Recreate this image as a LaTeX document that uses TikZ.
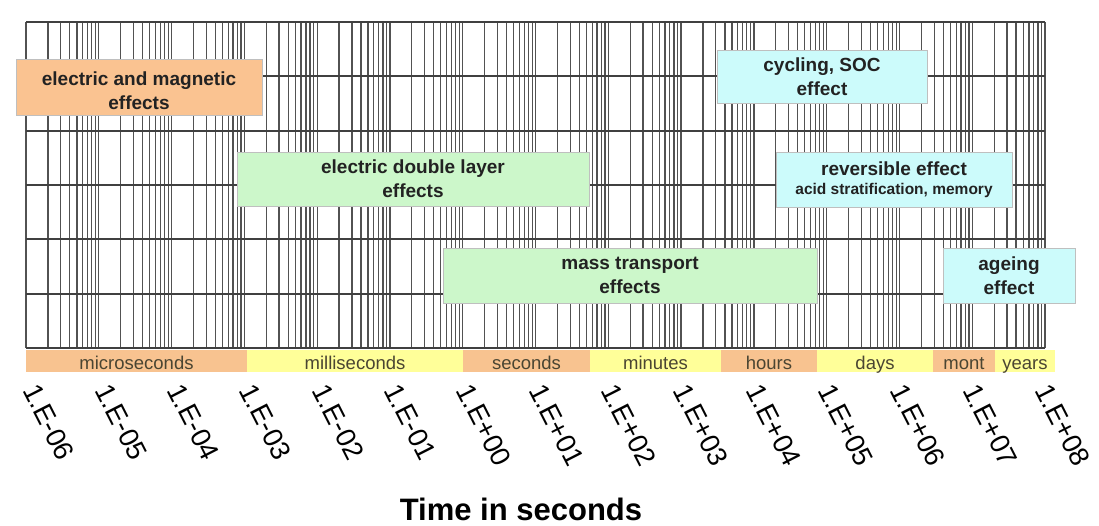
\documentclass[tikz,border=0pt]{standalone}
\usepackage{fontspec}
\setmainfont{Liberation Sans}
\definecolor{bandorange}{HTML}{F8C390}
\definecolor{bandyellow}{HTML}{FFFF99}
\definecolor{boxorange}{HTML}{FAC391}
\definecolor{boxgreen}{HTML}{CCF7CA}
\definecolor{boxcyan}{HTML}{CCFBFB}
\definecolor{bandtext}{HTML}{4A4532}
\definecolor{boxtext}{HTML}{222222}
\tikzset{
  vline/.style={draw=black!68, line width=1.25pt},
  hline/.style={draw=black!75, line width=1.7pt},
  band/.style={inner sep=0pt, minimum height=22pt, text height=18pt, text depth=2pt,
    text=bandtext, font=\fontsize{18.5}{20}\selectfont},
  effbox/.style={draw=black!25, line width=0.8pt, inner sep=0pt, align=center, text=boxtext,
    font=\fontsize{19}{24}\selectfont\bfseries},
  ticklab/.style={rotate=-63, anchor=base west, inner sep=0pt, font=\fontsize{27.5}{28}\selectfont},
}
\begin{document}
\begin{tikzpicture}[x=1pt,y=-1pt]
\useasboundingbox[fill=white] (0,0) rectangle (1099,525);
% vertical grid lines (log scale, 14 decades)
\foreach \d in {0,...,13}{
  \foreach \k in {1,...,9}{
    \pgfmathsetmacro{\xx}{26+72.79*(\d+log10(\k))}
    \draw[vline] (\xx,22) -- (\xx,348);
  }
}
\draw[vline] (1045,22) -- (1045,348);
% horizontal grid lines
\foreach \i in {0,...,6}{
  \pgfmathsetmacro{\yy}{22+54.33*\i}
  \draw[hline] (26,\yy) -- (1045,\yy);
}
% time unit band
\node[band, fill=bandorange, minimum width=221pt] (b1) at (136.5,361) {microseconds};
\node[band, fill=bandyellow, minimum width=216pt] (b2) at (355,361) {milliseconds};
\node[band, fill=bandorange, minimum width=127pt] (b3) at (526.5,361) {seconds};
\node[band, fill=bandyellow, minimum width=131pt] (b4) at (655.5,361) {minutes};
\node[band, fill=bandorange, minimum width=96pt] (b5) at (769,361) {hours};
\node[band, fill=bandyellow, minimum width=116pt] (b6) at (875,361) {days};
\node[band, fill=bandorange, minimum width=62pt] (b7) at (964,361) {mont};
\node[band, fill=bandyellow, minimum width=60pt] (b8) at (1025,361) {years};
% effect boxes
\node[effbox, fill=boxorange, minimum width=246pt, minimum height=56pt] (em) at (139,87) {\rule{0pt}{21pt}electric and magnetic\\effects};
\node[effbox, fill=boxgreen, minimum width=352pt, minimum height=54pt] (edl) at (413,179) {electric double layer\\effects};
\node[effbox, fill=boxgreen, minimum width=374pt, minimum height=55pt] (mt) at (630,275.5) {mass transport\\effects};
\node[effbox, fill=boxcyan, minimum width=210pt, minimum height=53pt] (soc) at (822,76.5) {cycling, SOC\\effect};
\node[effbox, fill=boxcyan, minimum width=236pt, minimum height=55pt] (rev) at (894,179.5) {reversible effect\\[-5pt]{\fontsize{15.5}{18}\selectfont acid stratification, memory}};
\node[effbox, fill=boxcyan, minimum width=132pt, minimum height=55pt] (age) at (1009,275.5) {ageing\\effect};
% tick labels
\foreach \lab [count=\i from 0] in {1.E-06,1.E-05,1.E-04,1.E-03,1.E-02,1.E-01,1.E+00,1.E+01,1.E+02,1.E+03,1.E+04,1.E+05,1.E+06,1.E+07,1.E+08}{
  \node[ticklab] (t\i) at ({22+72.3*\i},390) {\lab};
}
% axis title
\node[anchor=base, inner sep=0pt, font=\fontsize{31}{31}\selectfont\bfseries] (title) at (521,520) {Time in seconds};
\end{tikzpicture}
\end{document}
